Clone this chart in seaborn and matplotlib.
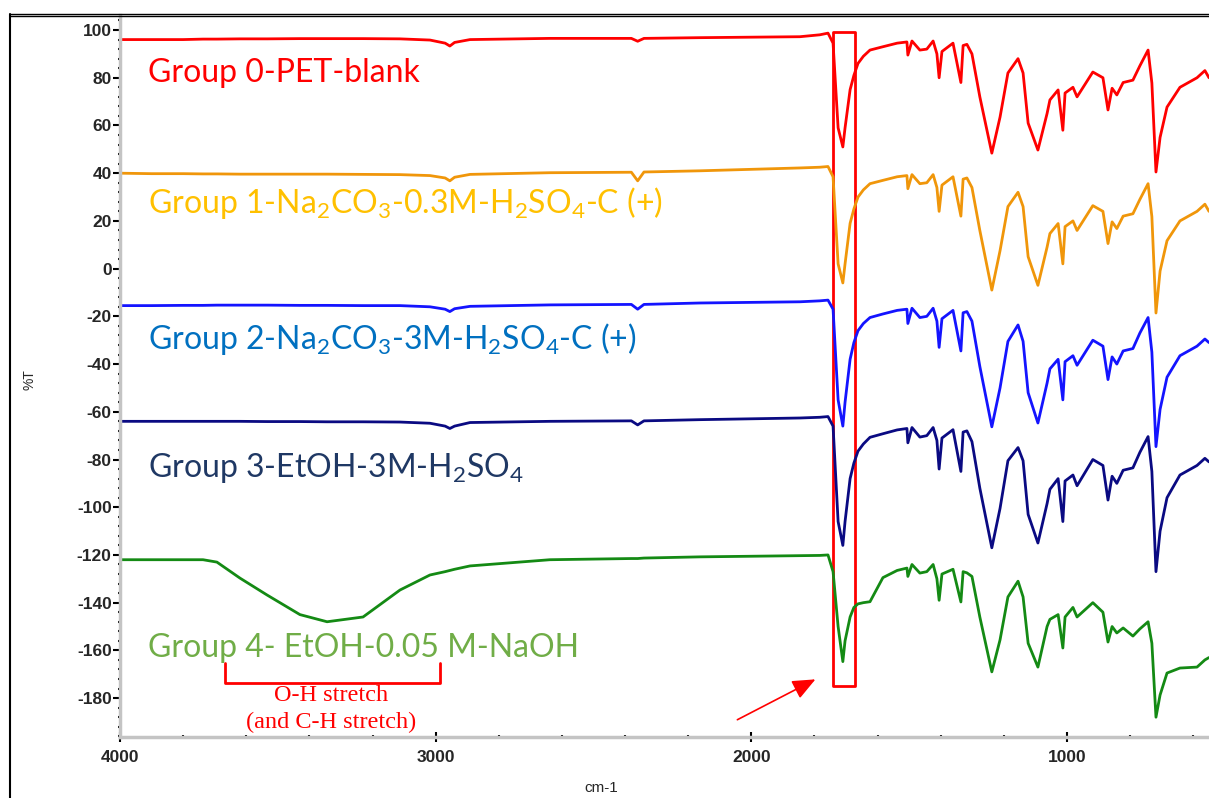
import numpy as np
import pandas as pd
import matplotlib
matplotlib.use("Agg")
import matplotlib.pyplot as plt
from matplotlib.patches import Rectangle
from matplotlib.lines import Line2D
from matplotlib.ticker import MultipleLocator
import seaborn as sns

# Данные (волновые числа, см-1, и %T для каждой группы, со смещением)
wavenumber = [4000, 3900, 3800, 3737, 3693, 3620, 3534, 3430, 3344, 3230,
              3113, 3018, 2970, 2955, 2940, 2891, 2638, 2380, 2360, 2340,
              2163, 1846, 1783, 1757, 1741, 1725, 1710, 1703, 1687, 1675,
              1662, 1645, 1624, 1583, 1538, 1507, 1504, 1491, 1466, 1444,
              1424, 1412, 1405, 1396, 1361, 1336, 1329, 1317, 1301, 1276,
              1238, 1212, 1187, 1155, 1139, 1123, 1092, 1063, 1054, 1028,
              1013, 1006, 981, 968, 918, 886, 870, 857, 842, 822,
              791, 769, 743, 731, 718, 705, 683, 642, 588, 563,
              550]

group0 = [96, 96, 96, 96.2, 96.2, 96.3, 96.3, 96.4, 96.4, 96.4,
          96.3, 95.8, 94.5, 93.3, 94.8, 96, 96.5, 96.5, 95.3, 96.5,
          96.8, 97.2, 98, 98.7, 94.5, 59, 51, 59, 75, 81,
          86, 89, 91.6, 93, 94.5, 95, 89.5, 95.4, 91.6, 92,
          95.4, 90, 80, 91, 94.5, 78, 93.5, 94, 90, 72,
          48.4, 63.5, 82, 88, 82, 61, 49.7, 65, 70.7, 74.9,
          58, 73.6, 76, 72, 82.4, 80, 66.5, 75.6, 72.8, 78,
          79, 85, 91.6, 77.8, 40.5, 55, 67.7, 76, 80, 83,
          80]

group1 = [40, 39.8, 39.8, 39.7, 39.7, 39.6, 39.6, 39.6, 39.6, 39.5,
          39.4, 39, 38, 36.8, 38.3, 39.5, 40.2, 40.4, 36.8, 40.5,
          41, 42.2, 42.5, 42.8, 38.5, 2, -6, 2, 19, 25,
          30, 33, 35.6, 37, 38.5, 39, 33.5, 39.4, 35.6, 36,
          39.4, 34, 24, 35, 38.5, 22, 37.5, 38, 34, 16,
          -9, 7.5, 26, 32, 26, 5, -7, 9, 14.7, 18.9,
          2, 17.6, 20, 16, 26.4, 24, 10.5, 19.6, 16.8, 22,
          23, 29, 35.6, 21.8, -18.6, -1, 11.7, 20, 24, 27,
          24]

group2 = [-15.5, -15.5, -15.4, -15.4, -15.3, -15.3, -15.3, -15.4, -15.4, -15.5,
          -15.5, -16, -17, -18, -16.8, -15.8, -15.2, -15, -17, -15,
          -14.4, -13.9, -13.5, -13.2, -17, -55, -66, -56, -38, -31,
          -26, -23, -20.5, -19, -17.5, -17, -23, -16.6, -20.5, -20,
          -16.6, -22, -33, -21, -17.5, -34.5, -18.5, -18, -22, -41,
          -66.3, -50, -30.5, -23.6, -30.5, -52, -64.7, -48, -42, -38,
          -55, -39, -36.5, -40.5, -30, -32.5, -46.5, -37, -40, -34.5,
          -33.5, -27, -20.5, -35, -74.6, -59, -45.5, -36.5, -32.5, -29.5,
          -31]

group3 = [-64, -64, -64, -64, -64, -64, -64.1, -64.1, -64.2, -64.2,
          -64.3, -64.8, -66, -67, -66, -64.5, -64, -63.8, -65.5, -63.8,
          -63.3, -62.6, -62.3, -62, -66, -106, -116, -106, -88, -81.5,
          -76.5, -73.5, -70.7, -69.2, -67.6, -67, -73, -66.6, -70.6, -70,
          -66.6, -72, -84, -71, -67.5, -85, -68.5, -68, -72.5, -92,
          -117, -100.5, -80.5, -75, -80.5, -103, -115, -98.5, -92.5, -88,
          -106, -89, -86.5, -91, -80, -82.5, -97, -87, -90, -84.5,
          -83.5, -77, -70.4, -85, -127, -110, -96, -86.5, -82.5, -79.5,
          -81]

group4 = [-122, -122, -122, -122, -123, -129.7, -136.8, -145, -148, -146,
          -134.7, -128.4, -127, -126.5, -126, -124.6, -122, -121.5, -121.5, -121.3,
          -120.8, -120.3, -120.2, -120, -127, -150, -164.7, -156, -146, -142,
          -140.5, -140, -139.6, -129.5, -126.5, -125.5, -129, -124, -127.6, -127,
          -124, -130, -139, -128, -126, -139.7, -127, -127.5, -129, -146,
          -169, -155.6, -137.6, -131, -137.6, -157, -167, -150, -147, -145,
          -159, -146, -142, -146, -140, -144, -156.5, -150, -152.7, -150.6,
          -154, -151, -148, -157, -188, -178.7, -169.5, -167.4, -167, -164,
          -163]

groups = ["G0", "G1", "G2", "G3", "G4"]
series = [group0, group1, group2, group3, group4]

line_colors = {"G0": "#FF0000", "G1": "#F0960A", "G2": "#1414FF",
               "G3": "#0A0A82", "G4": "#148A14"}

labels = [
    "Group 0-PET-blank",
    "Group 1-Na$_{2}$CO$_{3}$-0.3M-H$_{2}$SO$_{4}$-C (+)",
    "Group 2-Na$_{2}$CO$_{3}$-3M-H$_{2}$SO$_{4}$-C (+)",
    "Group 3-EtOH-3M-H$_{2}$SO$_{4}$",
    "Group 4- EtOH-0.05 M-NaOH",
]
label_colors = ["#FF0000", "#FFC000", "#0070C0", "#1F3864", "#70AD47"]
label_y = [78.2, 23.3, -33.7, -87.3, -162.8]

df = pd.concat(
    [pd.DataFrame({"wn": wavenumber, "T": vals, "group": g})
     for g, vals in zip(groups, series)],
    ignore_index=True,
)

sns.set_style("white")
plt.rcParams["font.family"] = ["Lato", "DejaVu Sans"]
plt.rcParams["mathtext.fontset"] = "custom"
plt.rcParams["mathtext.rm"] = "Lato"
plt.rcParams["mathtext.it"] = "Lato:italic"

fig = plt.figure(figsize=(12.09, 7.98), dpi=100)
ax = fig.add_axes([120 / 1209, 1 - 737 / 798, 1 - 120 / 1209, (737 - 15) / 798])

sns.lineplot(data=df, x="wn", y="T", hue="group", palette=line_colors,
             sort=False, estimator=None, legend=False, linewidth=2, ax=ax)

ax.set_xlim(4000, 550)
ax.set_ylim(-196.3, 106.3)
ax.set_xlabel("")
ax.set_ylabel("")

ax.xaxis.set_minor_locator(MultipleLocator(200))
ax.yaxis.set_minor_locator(MultipleLocator(4))

tick_font = {"family": ["Liberation Sans Narrow", "Liberation Sans"],
             "weight": "bold", "size": 12.5}
ax.set_xticks([4000, 3000, 2000, 1000])
ax.set_xticklabels(["4000", "3000", "2000", "1000"], fontdict=tick_font)
yt = list(range(-180, 101, 20))
ax.set_yticks(yt)
ax.set_yticklabels([str(v) for v in yt], fontdict=tick_font)
ax.tick_params(axis="both", which="major", length=5, width=1.5,
               color="black", direction="out", pad=1)
ax.tick_params(axis="x", which="major", direction="inout", length=7, pad=6)
ax.tick_params(axis="both", which="minor", length=2.5, width=1.5,
               color="black", direction="inout")
ax.tick_params(left=True, bottom=True, which="both")

for side in ["top", "right"]:
    ax.spines[side].set_visible(False)
for side in ["left", "bottom"]:
    ax.spines[side].set_color("#C4C4C4")
    ax.spines[side].set_linewidth(2.5)

# подписи групп
for txt, col, yv in zip(labels, label_colors, label_y):
    ax.text(3912, yv, txt, color=col, fontsize=23, va="baseline", ha="left")

# красная рамка вокруг пика C=O
box = Rectangle((1671, -175), 70, 274.2, fill=False, edgecolor="#FF0000",
                linewidth=2, joinstyle="round")
ax.add_patch(box)

# стрелка
ax.annotate("", xy=(1789, -171.6), xytext=(2052, -189.6),
            arrowprops=dict(arrowstyle="-|>,head_length=1.4,head_width=0.6",
                            color="#FF0000", lw=1.2))

# скобка O-H
ax.plot([3667, 3667, 2986, 2986], [-165.3, -173.7, -173.7, -165.3],
        color="#FF0000", linewidth=2)
ax.text(3332, -178.7, "O-H stretch", color="#FF0000", fontsize=17.5,
        family=["Liberation Serif"], ha="center", va="center")
ax.text(3332, -190.2, "(and C-H stretch)", color="#FF0000", fontsize=17.5,
        family=["Liberation Serif"], ha="center", va="center")

# подписи осей
fig.text(30 / 1209, 1 - 380 / 798, "%T", rotation=90, fontsize=10,
         family=["Liberation Sans"], ha="center", va="center")
fig.text(601 / 1209, 1 - 788 / 798, "cm-1", fontsize=11,
         family=["Liberation Sans Narrow", "Liberation Sans"],
         ha="center", va="center")

# внешняя рамка
fig.add_artist(Line2D([10 / 1209, 10 / 1209], [0, 1 - 14 / 798],
                      color="black", linewidth=1.5))
fig.add_artist(Line2D([10 / 1209, 1], [1 - 13.5 / 798, 1 - 13.5 / 798],
                      color="black", linewidth=1))
fig.add_artist(Line2D([10 / 1209, 1], [1 - 16 / 798, 1 - 16 / 798],
                      color="black", linewidth=1))

fig.savefig("out.png", dpi=100)
